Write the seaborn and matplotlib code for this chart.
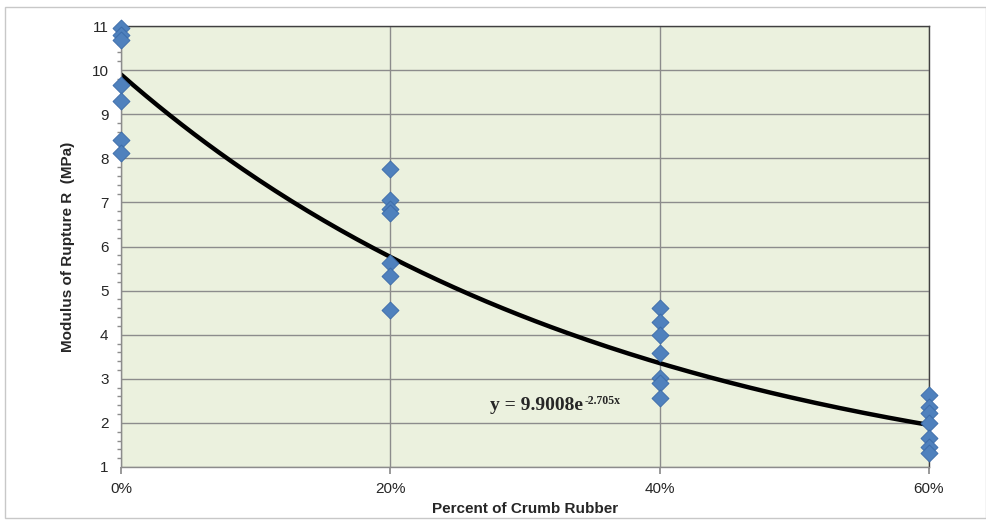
import numpy as np
import pandas as pd
import matplotlib
matplotlib.use("Agg")
import matplotlib.pyplot as plt
import seaborn as sns
from matplotlib.ticker import MultipleLocator, FuncFormatter

# Data
pct_0 = [10.95, 10.8, 10.68, 9.66, 9.31, 8.41, 8.12]
pct_20 = [7.75, 7.05, 6.85, 6.76, 5.63, 5.32, 4.56]
pct_40 = [4.6, 4.29, 4.0, 3.58, 3.02, 2.9, 2.56]
pct_60 = [2.63, 2.37, 2.22, 2.0, 1.65, 1.45, 1.32]
rubber_levels = [0.0, 0.2, 0.4, 0.6]
fit_a = 9.9008
fit_b = -2.705
x_ticks = [0.0, 0.2, 0.4, 0.6]
y_ticks = [1, 2, 3, 4, 5, 6, 7, 8, 9, 10, 11]

rows = []
for lvl, vals in zip(rubber_levels, [pct_0, pct_20, pct_40, pct_60]):
    for v in vals:
        rows.append({"rubber": lvl, "mor": v})
df = pd.DataFrame(rows)

xf = np.linspace(0, 0.6, 200)
fit_df = pd.DataFrame({"rubber": xf, "mor": fit_a * np.exp(fit_b * xf)})

sns.set_theme(style="white")
plt.rcParams["font.family"] = ["Liberation Sans", "DejaVu Sans"]

fig = plt.figure(figsize=(9.87, 5.2), dpi=100)
W, H = 987, 520
ax = fig.add_axes([121 / W, 1 - 467 / H, (929 - 121) / W, (467 - 26) / H])
ax.set_facecolor("#EBF1DE")

# outer border
fig.patches.append(plt.Rectangle((5 / W, 2 / H), 1 - 6 / W, 1 - 9 / H, transform=fig.transFigure,
                                 fill=False, edgecolor="#C8C8C8", linewidth=1.0))

for t in y_ticks:
    ax.axhline(t, color="#8C8C8C", linewidth=1.0, zorder=0)
for t in x_ticks:
    ax.axvline(t, color="#8C8C8C", linewidth=1.0, zorder=0)

sns.lineplot(data=fit_df, x="rubber", y="mor", ax=ax, color="black", linewidth=3.2, zorder=2)
sns.scatterplot(data=df, x="rubber", y="mor", ax=ax, marker="D", s=75, color="#4F81BD",
                edgecolor="#3A6AA8", linewidth=0.6, zorder=3, clip_on=False)

ax.set_xlim(0, 0.6)
ax.set_ylim(1, 11)
ax.set_xticks(x_ticks)
ax.xaxis.set_major_formatter(FuncFormatter(lambda v, p: f"{v*100:.0f}%"))
ax.set_yticks(y_ticks)
ax.yaxis.set_minor_locator(MultipleLocator(0.2))
ax.tick_params(axis="y", which="major", length=5, color="#8C8C8C", labelsize=11, pad=4)
ax.tick_params(axis="y", which="minor", length=3, color="#8C8C8C", left=True)
ax.tick_params(axis="x", which="major", length=5, color="#8C8C8C", labelsize=11, pad=6, bottom=True)

for s in ["left", "bottom"]:
    ax.spines[s].set_color("#8C8C8C")
for s in ["top", "right"]:
    ax.spines[s].set_color("#404040")
for s in ax.spines.values():
    s.set_linewidth(1.0)

ax.set_xlabel("Percent of Crumb Rubber", fontsize=11, fontweight="bold", labelpad=4)
ax.set_ylabel("Modulus of Rupture R  (MPa)", fontsize=11, fontweight="bold", labelpad=12)

eq = ax.text(0.274, 2.4, "y = 9.9008e", fontsize=14, fontweight="bold",
             family=["Liberation Serif", "DejaVu Serif"], ha="left", va="center")
ax.annotate("-2.705x", xy=(1.0, 0.78), xycoords=eq, xytext=(1, 0), textcoords="offset points",
            fontsize=8.5, fontweight="bold", family=["Liberation Serif", "DejaVu Serif"],
            ha="left", va="center")

fig.savefig("out.png", dpi=100)
